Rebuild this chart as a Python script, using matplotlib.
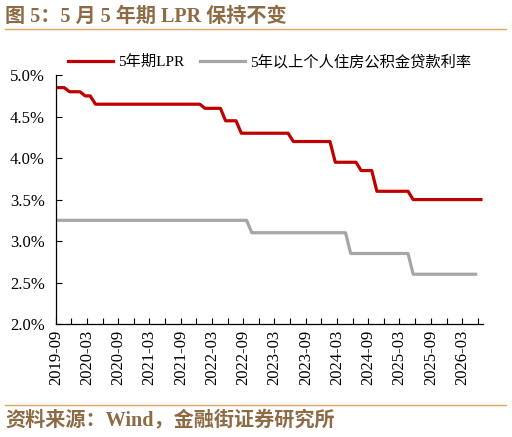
import matplotlib
matplotlib.use("Agg")
import matplotlib.pyplot as plt
import pandas as pd

# monthly readings (LPR fixing on the 20th), 2019-08 .. 2026-06
lpr_dates = pd.date_range("2019-08-20", periods=83, freq=pd.DateOffset(months=1))
lpr_5y = [4.85, 4.85, 4.85, 4.80, 4.80,
          4.80, 4.75, 4.75, 4.65, 4.65, 4.65, 4.65, 4.65, 4.65, 4.65, 4.65, 4.65,
          4.65, 4.65, 4.65, 4.65, 4.65, 4.65, 4.65, 4.65, 4.65, 4.65, 4.65, 4.65,
          4.60, 4.60, 4.60, 4.60, 4.45, 4.45, 4.45, 4.30, 4.30, 4.30, 4.30, 4.30,
          4.30, 4.30, 4.30, 4.30, 4.30, 4.20, 4.20, 4.20, 4.20, 4.20, 4.20, 4.20,
          4.20, 3.95, 3.95, 3.95, 3.95, 3.95, 3.85, 3.85, 3.85, 3.60, 3.60, 3.60,
          3.60, 3.60, 3.60, 3.60, 3.50, 3.50, 3.50, 3.50, 3.50, 3.50, 3.50, 3.50,
          3.50, 3.50, 3.50, 3.50, 3.50, 3.50]

# provident fund loan rate (>5y), 2019-08 .. 2026-05
gjj_dates = pd.date_range("2019-08-20", periods=82, freq=pd.DateOffset(months=1))
gjj_5y = [3.25, 3.25, 3.25, 3.25, 3.25,
          3.25, 3.25, 3.25, 3.25, 3.25, 3.25, 3.25, 3.25, 3.25, 3.25, 3.25, 3.25,
          3.25, 3.25, 3.25, 3.25, 3.25, 3.25, 3.25, 3.25, 3.25, 3.25, 3.25, 3.25,
          3.25, 3.25, 3.25, 3.25, 3.25, 3.25, 3.25, 3.25, 3.25, 3.10, 3.10, 3.10,
          3.10, 3.10, 3.10, 3.10, 3.10, 3.10, 3.10, 3.10, 3.10, 3.10, 3.10, 3.10,
          3.10, 3.10, 3.10, 3.10, 2.85, 2.85, 2.85, 2.85, 2.85, 2.85, 2.85, 2.85,
          2.85, 2.85, 2.85, 2.85, 2.60, 2.60, 2.60, 2.60, 2.60, 2.60, 2.60, 2.60,
          2.60, 2.60, 2.60, 2.60, 2.60]

tick_dates = pd.date_range("2019-09-01", "2026-06-01", freq="3MS")
tick_labels = [d.strftime("%Y-%m") if i % 2 == 0 else "" for i, d in enumerate(tick_dates)]

title = "图 5：5 月 5 年期 LPR 保持不变"
source = "资料来源：Wind，金融街证券研究所"

serif = ["Liberation Serif", "Noto Sans CJK SC"]
brown = "#8C6B45"
gold = "#D9A85A"

fig = plt.figure(figsize=(5.12, 4.37), dpi=100)
ax = fig.add_axes([0.109, 0.2586, 0.834, 0.5694])

ax.plot(lpr_dates, lpr_5y, color="#C00000", lw=2.3, label="5年期LPR")
ax.plot(gjj_dates, gjj_5y, color="#A6A6A6", lw=2.3, label="5年以上个人住房公积金贷款利率")

ax.set_ylim(2.0, 5.0)
ax.set_yticks([2.0, 2.5, 3.0, 3.5, 4.0, 4.5, 5.0])
ax.set_yticklabels([f"{v:.1f}%" for v in ax.get_yticks()], family=serif, fontsize=12)
ax.set_xlim(pd.Timestamp("2019-09-01"), pd.Timestamp("2026-07-01"))
ax.set_xticks(tick_dates)
ax.set_xticklabels(tick_labels, rotation=90, family=serif, fontsize=12)
ax.tick_params(direction="in", length=4, width=0.8, pad=4)
ax.tick_params(axis="y", pad=8)

for s in ["top", "right"]:
    ax.spines[s].set_visible(False)
for s in ["left", "bottom"]:
    ax.spines[s].set_linewidth(0.9)

ax.legend(loc="lower center", bbox_to_anchor=(0.5, 0.975), ncol=2, frameon=False,
          prop={"family": serif, "size": 11}, handlelength=3.0, columnspacing=1.0,
          handletextpad=0.3, borderaxespad=0.4)

fig.text(0.01, 0.962, title, color=brown, fontsize=14.5, fontweight="bold",
         family=serif, va="center")
fig.add_artist(plt.Line2D([0.01, 0.988], [0.934, 0.934], color=gold, lw=1.0))
fig.add_artist(plt.Line2D([0.01, 0.988], [0.073, 0.073], color=gold, lw=1.0))
fig.text(0.01, 0.038, source, color=brown, fontsize=14.5, fontweight="bold",
         family=serif, va="center")

fig.savefig("out.png", dpi=100)
